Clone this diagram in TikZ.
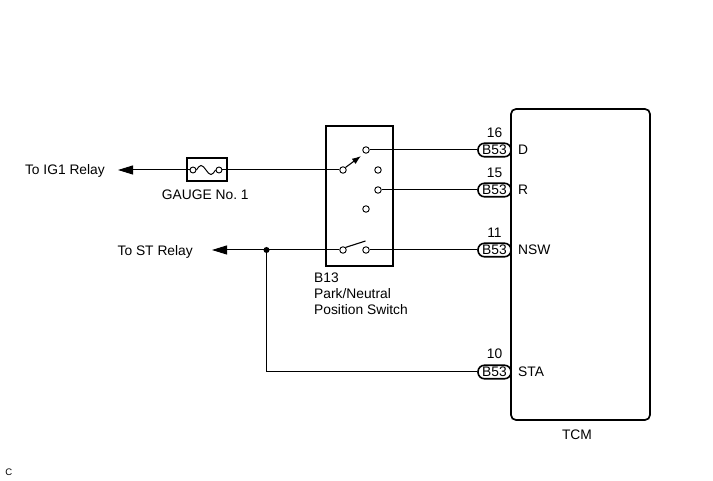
\documentclass[tikz,border=0pt]{standalone}
\usepackage{fontspec}
\setmainfont{Liberation Sans}
\usetikzlibrary{arrows.meta}
\begin{document}
\begin{tikzpicture}[x=1pt,y=-1pt,
  wire/.style={line width=1pt},
  thickbox/.style={draw,line width=2pt,inner sep=0pt},
  term/.style={circle,draw,fill=white,line width=0.9pt,inner sep=0pt,minimum size=6.5pt},
  pill/.style={draw,line width=1.6pt,rounded corners=6.5pt,minimum width=33pt,minimum height=13.5pt,inner sep=0pt,font=\fontsize{13.8}{13.8}\selectfont},
  lbl/.style={font=\fontsize{13.8}{16}\selectfont,inner sep=0pt},
  bigarrow/.style={-{Triangle[length=15pt,width=9pt]}},
  dotnode/.style={circle,fill=black,inner sep=0pt,minimum size=6pt}]
\useasboundingbox (0,0) rectangle (713,481);

% TCM
\node[draw,line width=1.7pt,rounded corners=5pt,minimum width=139pt,minimum height=311pt,inner sep=0pt] (tcm) at (580.5,264.5) {};
\node[lbl] (tcmlbl) at (577,435) {TCM};

% connectors B53
\node[pill] (pD) at (494.5,150) {B53};
\node[pill] (pR) at (494.5,190) {B53};
\node[pill] (pN) at (494.5,250) {B53};
\node[pill] (pS) at (494.5,372) {B53};
\node[lbl] (nD) at (494.5,132.5) {16};
\node[lbl] (nR) at (494.5,173) {15};
\node[lbl] (nN) at (494.5,233) {11};
\node[lbl] (nS) at (494.5,354) {10};
\node[lbl,anchor=west] (lD) at (518,150) {D};
\node[lbl,anchor=west] (lR) at (518,190) {R};
\node[lbl,anchor=west] (lN) at (518,250) {NSW};
\node[lbl,anchor=west] (lS) at (518,372) {STA};

% switch box
\node[thickbox,minimum width=67pt,minimum height=140pt] (sw) at (359.5,196) {};
\node[lbl,anchor=north west,align=left] (swlbl) at (314,272.2) {B13\\Park/Neutral\\Position Switch};

% fuse
\node[thickbox,minimum width=40pt,minimum height=23pt] (fuse) at (206.7,169.5) {};
\node[lbl] (fuselbl) at (205.3,194.5) {GAUGE No.\ 1};
\node[term,minimum size=6pt] (f1) at (193,170) {};
\node[term,minimum size=6pt] (f2) at (219,170) {};
\draw[line width=1pt] (f1.east) sin (201,165.5) cos (206,170) sin (211,174.5) cos (f2.west);

% left arrows and texts
\coordinate (igtip) at (118,170);
\coordinate (sttip) at (212,250);
\node[lbl,anchor=base east] (iglbl) at (105,174.9) {To IG1 Relay};
\node[lbl,anchor=base east] (stlbl) at (193,255.5) {To ST Relay};

% switch contacts
\node[term] (c1) at (343,170) {};
\node[term] (cD) at (366,150) {};
\node[term] (c2) at (378,170) {};
\node[term] (cR) at (378,190) {};
\node[term] (c4) at (366,209) {};
\node[term] (c5) at (343,250) {};
\node[term] (c6) at (366,250) {};
\coordinate (arm1) at (361,156);
\coordinate (arm2) at (365.5,241);
\node[dotnode] (jd) at (266.5,250) {};

% wires
\draw[wire,bigarrow] (f1.west) -- (igtip);
\draw[wire] (f2.east) -- (c1.west);
\draw[wire] (cD.east) -- (pD.west);
\draw[wire] (cR.east) -- (pR.west);
\draw[wire] (c6.east) -- (pN.west);
\draw[wire,bigarrow] (c5.west) -- (sttip);
\draw[wire] (jd.center) |- (pS.west);
\draw[line width=1.1pt,-{Latex[length=9pt,width=6.5pt]}] (c1.north east) -- (arm1);
\draw[line width=1.1pt] (c5.north east) -- (arm2);

\node[font=\fontsize{9.5}{10}\selectfont,inner sep=0pt] (cmark) at (8.7,472.5) {C};
\end{tikzpicture}
\end{document}
